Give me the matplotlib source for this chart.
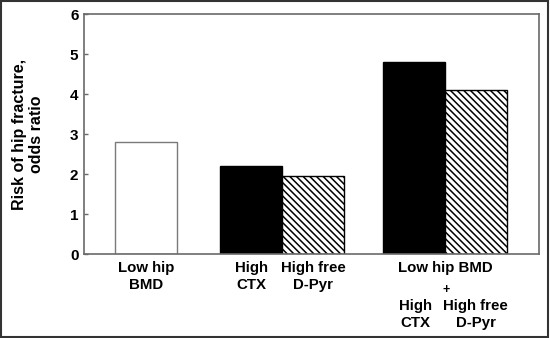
import matplotlib
matplotlib.use("Agg")
import matplotlib.pyplot as plt
from matplotlib.patches import Rectangle

# bar positions (in bar-width units) and odds ratios
positions = [1.0, 2.7, 3.7, 5.32, 6.32]
odds_ratio = [2.8, 2.2, 1.95, 4.8, 4.1]
fills = ["white", "black", "white", "black", "white"]
hatches = ["", "", "\\\\\\\\\\", "", "\\\\\\\\\\"]

yticks = [0, 1, 2, 3, 4, 5, 6]
ylabel = "Risk of hip fracture,\nodds ratio"

# category labels: (x, first line, second line)
xlabels = [
    (1.0, "Low hip", "BMD"),
    (2.7, "High", "CTX"),
    (3.7, "High free", "D-Pyr"),
]
combo_title = "Low hip BMD"
combo_labels = [(5.35, "High", "CTX"), (6.32, "High free", "D-Pyr")]

SPINE = "#6a6a6a"
EDGE = "#7a7a7a"

plt.rcParams["font.family"] = ["Liberation Sans", "DejaVu Sans"]
plt.rcParams["font.weight"] = "bold"
plt.rcParams["hatch.linewidth"] = 1.1

fig = plt.figure(figsize=(5.5, 3.38), dpi=100, facecolor="white")
ax = fig.add_axes([84 / 550, 1 - 254 / 338, 455 / 550, 240 / 338])

for x, v, fc, h in zip(positions, odds_ratio, fills, hatches):
    edge = EDGE if (fc == "white" and not h) else "black"
    ax.bar(x, v, width=1.0, color=fc, edgecolor=edge, linewidth=1.0, hatch=h, zorder=2)

ax.set_xlim(0, 455 / 62)
ax.set_ylim(0, 6)
ax.set_yticks(yticks)
ax.set_yticklabels([str(t) for t in yticks], fontsize=11, fontweight="bold")
ax.set_xticks([])
ax.tick_params(axis="y", direction="in", length=3, width=1, color=SPINE, pad=4)
for s in ax.spines.values():
    s.set_color(SPINE)
    s.set_linewidth(1.2)

ax.set_ylabel(ylabel, fontsize=11.5, fontweight="bold", labelpad=19, linespacing=1.1)


def frac(py):
    # pixel row in the picture -> axes fraction
    return (254 - py) / 240


trans = ax.get_xaxis_transform()
kw = dict(transform=trans, ha="center", va="center", fontsize=10.8, fontweight="bold")
for x, a, b in xlabels:
    ax.text(x, frac(268), a, **kw)
    ax.text(x, frac(285), b, **kw)
mid = (combo_labels[0][0] + combo_labels[1][0]) / 2
ax.text(mid, frac(268), combo_title, **kw)
ax.text(mid, frac(290), "+", **{**kw, "fontsize": 9})
for x, a, b in combo_labels:
    ax.text(x, frac(306), a, **kw)
    ax.text(x, frac(323), b, **kw)

# outer frame around the whole picture
fig.patches.append(Rectangle((0.002, 0.003), 0.995, 0.994, transform=fig.transFigure,
                             fill=False, edgecolor="#333333", linewidth=1.5))

fig.savefig("out.png", dpi=100)
